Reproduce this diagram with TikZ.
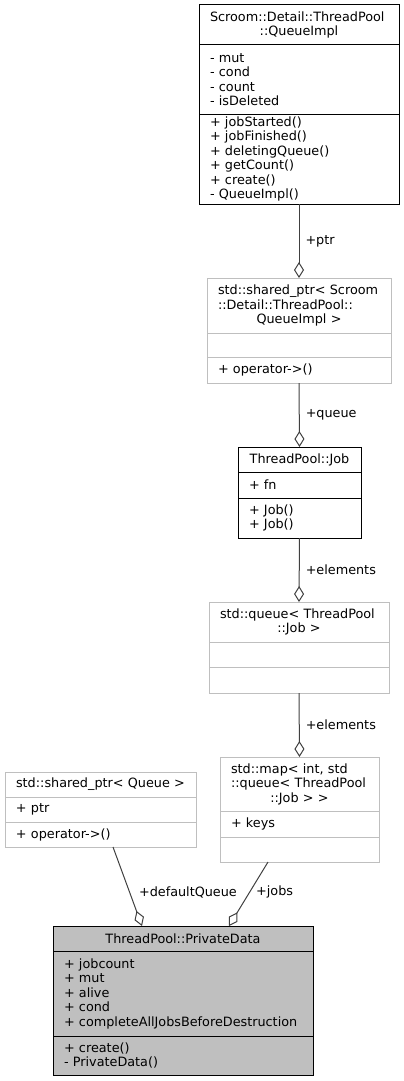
\documentclass[tikz,border=0pt]{standalone}
\usepackage{fontspec}
\usepackage{tikz}
\usetikzlibrary{arrows.meta,positioning}
\newfontfamily\dxfont{DejaVu Sans}
\definecolor{edgegray}{RGB}{64,64,64}
\definecolor{boxgray}{RGB}{191,191,191}
\newcommand{\ctrline}[1]{\makebox[\hsize][c]{#1}}

\begin{document}
\begin{tikzpicture}[x=1pt, y=-1pt,
  node distance=0pt,
  part/.style={draw=black, fill=white, line width=1pt, inner xsep=11pt, inner ysep=0pt,
    outer sep=0pt, align=left, anchor=north west,
    font=\dxfont\fontsize{12.8}{14.5}\selectfont},
  extpart/.style={part, draw=boxgray},
  mainpart/.style={part, fill=boxgray},
  agg/.style={draw=edgegray, line width=1pt, -{Diamond[open, length=16pt, width=10pt]}},
  lbl/.style={font=\dxfont\fontsize{12.8}{14.5}\selectfont, inner sep=0pt, anchor=west}
]
  \useasboundingbox (0,0) rectangle (404,1081);

  % QueueImpl
  \node[part, text width=178pt, minimum height=40pt] (implT) at (199,5)
    {Scroom::Detail::ThreadPool\\\ctrline{::QueueImpl}};
  \node[part, text width=178pt, minimum height=69pt, below=of implT] (implA)
    {- mut\\- cond\\- count\\- isDeleted};
  \node[part, text width=178pt, minimum height=90pt, below=of implA] (implM)
    {+ jobStarted()\\+ jobFinished()\\+ deletingQueue()\\+ getCount()\\+ create()\\- QueueImpl()};

  % shared_ptr< QueueImpl >
  \node[extpart, text width=162pt, minimum height=55pt] (qptrT) at (207,278)
    {std::shared\_ptr<~Scroom\\::Detail::ThreadPool::\\\ctrline{QueueImpl~>}};
  \node[extpart, text width=162pt, minimum height=24pt, below=of qptrT] (qptrA) {};
  \node[extpart, text width=162pt, minimum height=26pt, below=of qptrA] (qptrM) {+ operator->()};

  % ThreadPool::Job
  \node[part, text width=101pt, minimum height=25pt] (jobT) at (238,447)
    {\ctrline{ThreadPool::Job}};
  \node[part, text width=101pt, minimum height=26pt, below=of jobT] (jobA) {+ fn};
  \node[part, text width=101pt, minimum height=40pt, below=of jobA] (jobM) {+ Job()\\+ Job()};

  % std::queue
  \node[extpart, text width=158pt, minimum height=40pt] (queueT) at (209,602)
    {std::queue<~ThreadPool\\\ctrline{::Job~>}};
  \node[extpart, text width=158pt, minimum height=25pt, below=of queueT] (queueA) {};
  \node[extpart, text width=158pt, minimum height=26pt, below=of queueA] (queueM) {};

  % std::map
  \node[extpart, text width=137pt, minimum height=54pt] (mapT) at (220,757)
    {std::map<~int,~std\\::queue<~ThreadPool\\\ctrline{::Job~>~>}};
  \node[extpart, text width=137pt, minimum height=26pt, below=of mapT] (mapA) {+ keys};
  \node[extpart, text width=137pt, minimum height=25pt, below=of mapA] (mapM) {};

  % shared_ptr< Queue >
  \node[extpart, text width=169pt, minimum height=25pt] (dqT) at (5,772)
    {\ctrline{std::shared\_ptr<~Queue~>}};
  \node[extpart, text width=169pt, minimum height=25pt, below=of dqT] (dqA) {+ ptr};
  \node[extpart, text width=169pt, minimum height=25pt, below=of dqA] (dqM) {+ operator->()};

  % PrivateData
  \node[mainpart, text width=238pt, minimum height=25pt] (privT) at (53,926)
    {\ctrline{ThreadPool::PrivateData}};
  \node[mainpart, text width=238pt, minimum height=85pt, below=of privT] (privA)
    {+ jobcount\\+ mut\\+ alive\\+ cond\\+ completeAllJobsBeforeDestruction};
  \node[mainpart, text width=238pt, minimum height=39pt, below=of privA] (privM)
    {+ create()\\- PrivateData()};

  \draw[agg] (implM.south) -- node[lbl, xshift=6pt] (ptrlbl) {+ptr} (qptrT.north);
  \draw[agg] (qptrM.south) -- node[lbl, xshift=6pt] (queuelbl) {+queue} (jobT.north);
  \draw[agg] (jobM.south) -- node[lbl, xshift=6pt] (elemlbl) {+elements} (queueT.north);
  \draw[agg] (queueM.south) -- node[lbl, xshift=6pt] (elemlblb) {+elements} (mapT.north);
  \draw[agg] ([xshift=12.5pt]dqM.south) -- node[lbl, pos=0.57, xshift=9pt] (dqlbl) {+defaultQueue}
    ([xshift=-41pt]privT.north);
  \draw[agg] ([xshift=-31.5pt]mapM.south) -- node[lbl, pos=0.47, xshift=6pt] (jobslbl) {+jobs}
    ([xshift=46pt]privT.north);
\end{tikzpicture}
\end{document}
